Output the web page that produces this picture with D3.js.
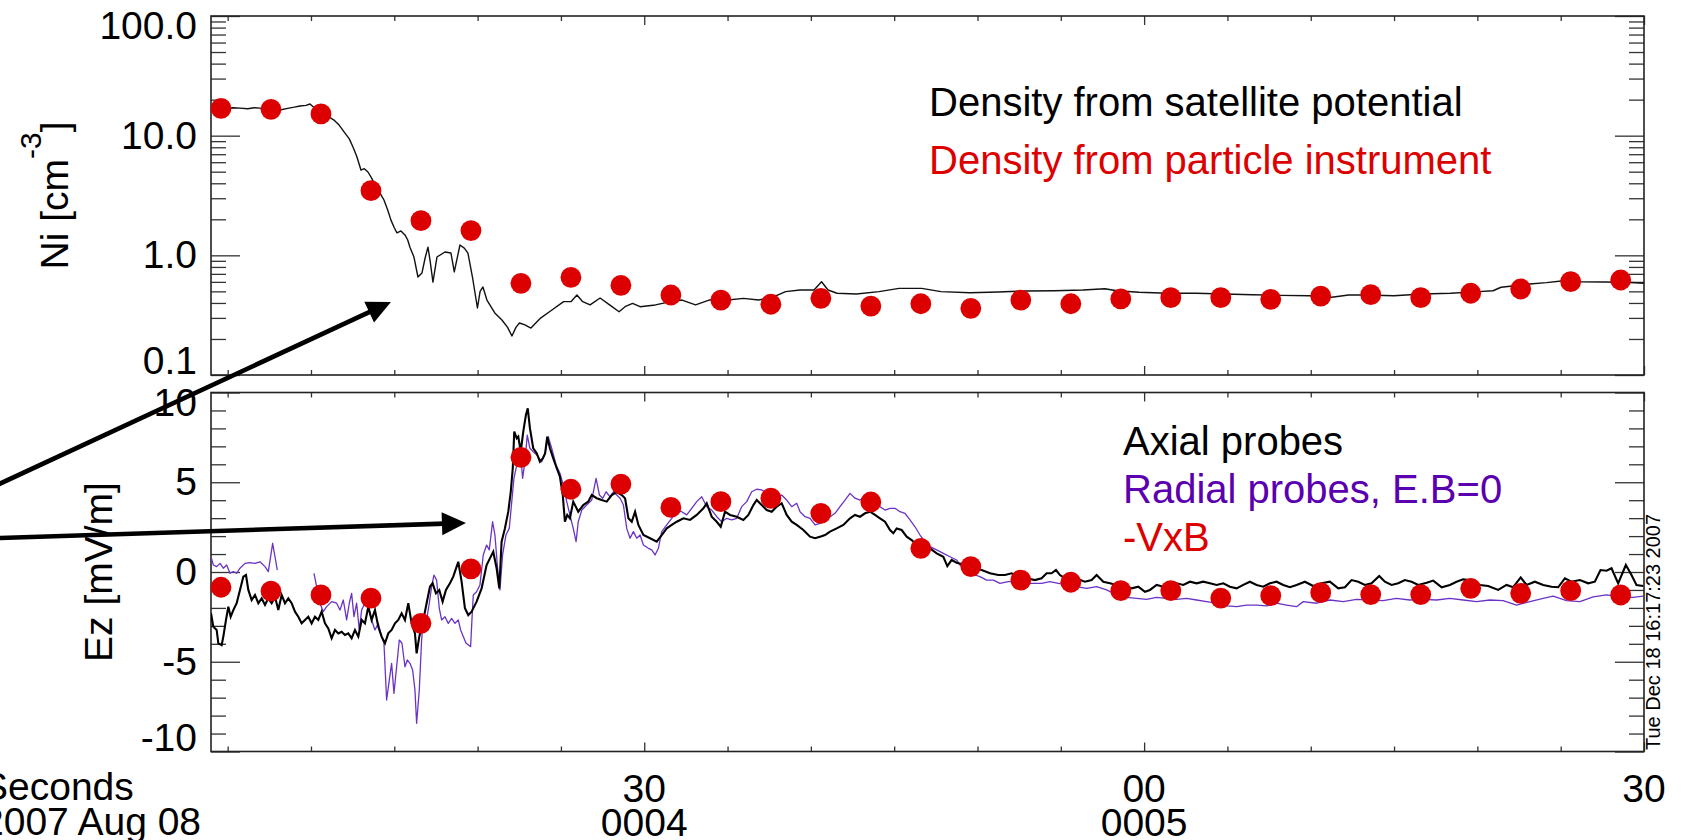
<!DOCTYPE html>
<html><head><meta charset="utf-8">
<script src="https://cdn.jsdelivr.net/npm/d3@7"></script>
<style>
html,body{margin:0;padding:0;background:#fff;overflow:hidden;}
svg{display:block;font-family:"Liberation Sans",Arial,Helvetica,sans-serif;}
</style></head><body>
<svg id="c" width="1687" height="840"></svg>
<script>
// ---------------- data (time = seconds after 00:04:00, 2007 Aug 08) ----------------
const dotTimes = [4.6,7.6,10.6,13.6,16.6,19.6,22.6,25.6,28.6,31.6,34.6,37.6,40.6,43.6,46.6,49.6,52.6,55.6,58.6,61.6,64.6,67.6,70.6,73.6,76.6,79.6,82.6,85.6,88.6];
const niParticle = [16.9,16.6,15.2,3.47,1.95,1.61,0.584,0.655,0.562,0.466,0.423,0.390,0.437,0.377,0.394,0.361,0.423,0.394,0.432,0.443,0.443,0.429,0.457,0.469,0.443,0.482,0.523,0.602,0.622];
const ezVxB = [-0.85,-1.06,-1.28,-1.45,-2.86,0.17,6.39,4.61,4.90,3.60,3.92,4.11,3.27,3.90,1.32,0.30,-0.45,-0.57,-1.04,-1.04,-1.45,-1.32,-1.15,-1.26,-1.26,-0.91,-1.19,-1.04,-1.28];

const niSatellite = [[4.00,17.4],[4.45,16.6],[4.84,16.7],[5.3,17.1],[5.74,17.0],[6.2,16.8],[6.6,17.1],[6.94,17.0],[7.4,16.7],[7.8,16.9],[8.14,16.4],[8.6,16.9],[9.0,17.3],[9.34,17.7],[9.7,17.9],[9.94,18.4],[10.2,17.1],[10.60,15.2],[11.0,14.6],[11.38,13.5],[11.7,12.2],[12.04,10.5],[12.3,9.4],[12.52,8.04],[12.75,6.7],[13.00,5.16],[13.2,5.3],[13.42,4.97],[13.65,4.4],[13.90,3.72],[14.15,3.3],[14.38,2.90],[14.6,2.4],[14.80,1.97],[15.0,1.7],[15.16,1.54],[15.4,1.60],[15.64,1.48],[15.8,1.35],[15.94,1.17],[16.18,0.968],[16.42,0.659],[16.66,0.711],[16.85,0.95],[17.02,1.17],[17.15,0.9],[17.32,0.598],[17.56,0.968],[18.04,1.066],[18.40,1.045],[18.60,0.726],[18.94,1.22],[19.2,1.15],[19.42,1.045],[19.69,0.659],[19.99,0.363],[20.15,0.5],[20.32,0.544],[20.56,0.423],[21.03,0.330],[21.46,0.288],[21.8,0.25],[22.06,0.212],[22.3,0.25],[22.51,0.272],[22.84,0.262],[23.20,0.247],[23.78,0.299],[24.46,0.349],[25.16,0.410],[25.60,0.410],[25.96,0.466],[26.31,0.410],[26.75,0.385],[27.35,0.440],[27.92,0.385],[28.49,0.338],[28.85,0.372],[29.30,0.397],[29.75,0.372],[30.67,0.385],[31.59,0.410],[32.27,0.423],[33.08,0.385],[33.89,0.423],[35.03,0.423],[35.95,0.437],[36.87,0.423],[37.79,0.451],[38.48,0.497],[39.35,0.513],[40.19,0.513],[40.64,0.602],[41.03,0.513],[41.57,0.482],[42.74,0.475],[44.09,0.497],[45.29,0.530],[46.65,0.530],[47.81,0.497],[49.55,0.487],[51.23,0.494],[52.91,0.503],[54.62,0.506],[56.33,0.513],[57.65,0.526],[58.35,0.506],[59.69,0.491],[61.41,0.482],[63.11,0.482],[64.79,0.475],[66.50,0.469],[68.21,0.463],[69.89,0.460],[71.26,0.446],[72.27,0.466],[73.29,0.466],[74.99,0.460],[76.68,0.475],[78.39,0.482],[80.08,0.497],[80.94,0.506],[81.42,0.541],[82.11,0.554],[83.13,0.576],[84.15,0.591],[85.17,0.614],[86.19,0.602],[87.54,0.598],[88.90,0.596],[90.00,0.584]];

const axialProbes = [[4.00,-2.30],[4.14,-3.05],[4.34,-3.23],[4.44,-3.97],[4.64,-4.07],[4.74,-3.60],[4.90,-2.67],[5.04,-1.93],[5.18,-2.49],[5.34,-2.12],[5.54,-1.74],[5.74,-1.00],[5.94,-0.26],[6.10,-0.17],[6.24,-1.00],[6.44,-1.56],[6.64,-1.28],[6.84,-1.74],[7.04,-1.47],[7.24,-1.84],[7.44,-1.47],[7.64,-1.74],[7.84,-1.38],[8.04,-2.12],[8.24,-1.28],[8.44,-1.74],[8.64,-1.47],[8.84,-1.74],[9.04,-2.21],[9.24,-2.49],[9.44,-2.86],[9.64,-2.67],[9.84,-2.49],[10.04,-2.86],[10.24,-2.49],[10.44,-2.67],[10.64,-2.21],[10.84,-2.86],[11.04,-3.14],[11.24,-3.69],[11.44,-3.23],[11.64,-3.42],[11.84,-3.33],[12.04,-3.51],[12.24,-3.42],[12.44,-3.69],[12.64,-3.23],[12.84,-3.60],[13.04,-2.67],[13.24,-2.86],[13.44,-1.93],[13.64,-2.67],[13.84,-2.12],[14.04,-3.05],[14.24,-3.60],[14.44,-3.97],[14.64,-3.42],[14.84,-3.23],[15.04,-2.86],[15.24,-2.67],[15.44,-2.30],[15.64,-2.67],[15.84,-1.74],[16.04,-2.86],[16.24,-3.42],[16.34,-4.53],[16.50,-3.60],[16.70,-2.86],[16.94,-1.74],[17.14,-0.82],[17.30,-0.63],[17.50,-1.19],[17.70,-1.00],[17.90,-1.65],[18.10,-1.00],[18.34,-0.63],[18.54,-0.26],[18.64,0.02],[18.84,0.57],[19.04,-0.54],[19.24,-2.02],[19.44,-2.40],[19.64,-2.21],[19.94,-1.65],[20.24,-0.91],[20.54,0.39],[20.74,0.76],[20.94,1.13],[21.14,0.21],[21.30,-0.91],[21.44,1.69],[21.64,2.43],[21.84,3.36],[21.99,4.47],[22.11,5.78],[22.20,7.82],[22.35,7.45],[22.44,7.54],[22.59,6.70],[22.74,7.82],[22.90,8.75],[23.01,9.12],[23.14,8.01],[23.34,6.89],[23.55,6.61],[23.74,6.14],[23.91,6.33],[24.05,6.61],[24.18,7.54],[24.34,6.89],[24.54,6.33],[24.75,5.78],[24.94,5.31],[25.11,4.29],[25.24,2.80],[25.38,3.18],[25.54,2.99],[25.74,3.92],[26.04,3.36],[26.34,3.73],[26.64,3.92],[26.85,4.29],[27.15,4.11],[27.45,4.01],[27.75,3.92],[28.05,4.29],[28.35,4.47],[28.65,4.29],[28.85,4.11],[29.05,2.99],[29.25,2.80],[29.45,3.36],[29.65,2.62],[29.95,2.06],[30.35,1.88],[30.75,1.69],[31.05,2.06],[31.35,2.43],[31.65,2.62],[31.95,2.80],[32.35,2.99],[32.75,2.90],[33.15,3.18],[33.55,3.55],[33.75,3.83],[34.05,3.08],[34.35,2.80],[34.59,2.52],[34.85,3.36],[35.15,3.18],[35.55,3.08],[35.95,2.90],[36.25,3.18],[36.55,3.73],[36.75,4.01],[37.05,3.73],[37.35,3.45],[37.65,3.36],[37.95,3.64],[38.25,3.83],[38.55,3.18],[38.85,2.80],[39.15,2.62],[39.55,2.34],[39.95,1.97],[40.25,1.88],[40.55,1.97],[40.85,2.06],[41.15,2.25],[41.55,2.43],[41.95,2.62],[42.35,2.99],[42.65,3.18],[42.95,3.08],[43.25,3.27],[43.55,3.36],[43.85,3.18],[44.15,2.99],[44.45,2.80],[44.75,2.34],[44.95,2.16],[45.15,2.43],[45.45,2.34],[45.75,1.97],[46.05,1.78],[46.35,1.50],[46.75,1.32],[47.15,1.32],[47.55,1.04],[47.95,0.85],[48.19,0.33],[48.45,0.67],[48.75,0.52],[49.25,0.39],[49.75,0.21],[50.25,0.11],[50.75,-0.07],[51.25,-0.17],[51.65,-0.17],[52.05,-0.07],[52.45,-0.26],[52.95,-0.35],[53.45,-0.45],[53.85,-0.35],[54.15,-0.07],[54.45,-0.07],[54.71,0.11],[54.95,-0.17],[55.25,-0.35],[55.65,-0.45],[56.05,-0.41],[56.45,-0.54],[56.85,-0.45],[57.15,-0.17],[57.55,-0.54],[57.95,-0.63],[58.35,-0.72],[58.75,-0.82],[59.25,-0.91],[59.65,-0.82],[60.05,-1.10],[60.35,-1.00],[60.75,-0.72],[61.15,-0.82],[61.55,-0.72],[61.95,-0.63],[62.35,-0.72],[62.75,-0.54],[63.15,-0.63],[63.55,-0.54],[63.95,-0.63],[64.35,-0.72],[64.75,-0.63],[65.15,-0.82],[65.55,-0.91],[65.95,-0.72],[66.35,-0.54],[66.75,-0.72],[67.15,-0.82],[67.55,-0.63],[67.95,-0.54],[68.35,-0.72],[68.75,-0.85],[69.15,-0.72],[69.65,-0.54],[70.15,-0.78],[70.65,-0.63],[71.15,-0.54],[71.65,-0.91],[72.05,-0.85],[72.45,-0.45],[72.85,-0.54],[73.25,-0.72],[73.65,-0.63],[74.11,-0.22],[74.45,-0.54],[74.85,-0.72],[75.25,-0.63],[75.65,-0.45],[76.05,-0.54],[76.45,-0.72],[76.96,-0.60],[77.35,-0.48],[77.86,-0.85],[78.35,-0.72],[78.75,-0.54],[79.15,-0.41],[79.66,-0.48],[80.15,-0.72],[80.65,-0.78],[81.25,-1.00],[81.75,-0.72],[82.15,-0.85],[82.60,-0.30],[82.95,-0.72],[83.45,-0.54],[83.95,-0.72],[84.45,-0.82],[84.85,-0.85],[85.25,-0.35],[85.65,-0.54],[86.15,-0.45],[86.65,-0.63],[87.05,-0.54],[87.39,0.11],[87.75,0.07],[88.05,0.21],[88.45,-0.63],[88.91,0.39],[89.25,-0.17],[89.55,-0.72],[89.95,-0.78]];

const radialProbes = [[4.00,0.85],[4.14,0.39],[4.34,0.30],[4.54,0.48],[4.74,0.21],[4.94,0.39],[5.14,-0.07],[5.34,0.02],[5.54,-0.07],[5.74,0.21],[6.04,0.48],[6.34,0.52],[6.64,0.48],[6.94,0.57],[7.24,0.30],[7.44,0.02],[7.70,1.60],[7.84,0.85],[7.98,0.11],[9.0,null],[10.18,-0.07],[10.34,-0.82],[10.54,-1.74],[10.74,-2.21],[10.94,-1.93],[11.24,-1.65],[11.54,-1.74],[11.74,-2.12],[11.94,-1.56],[12.14,-2.67],[12.30,-1.74],[12.44,-1.19],[12.58,-2.49],[12.74,-1.74],[12.90,-3.23],[13.04,-2.12],[13.24,-1.74],[13.44,-1.93],[13.64,-2.67],[13.84,-3.23],[14.04,-2.86],[14.24,-3.60],[14.38,-3.97],[14.54,-7.13],[14.70,-6.02],[14.84,-5.09],[14.98,-6.76],[15.14,-5.28],[15.30,-3.79],[15.46,-3.97],[15.64,-5.28],[15.78,-4.90],[15.94,-5.09],[16.10,-5.46],[16.24,-6.57],[16.34,-8.43],[16.50,-6.57],[16.64,-3.79],[16.74,-2.67],[16.94,-2.67],[17.10,-1.74],[17.24,-0.82],[17.38,-0.17],[17.54,-0.45],[17.70,-2.02],[17.84,-2.67],[18.04,-2.49],[18.24,-2.86],[18.44,-2.58],[18.64,-2.86],[18.84,-2.67],[18.98,-3.23],[19.30,-3.96],[19.58,-4.16],[19.66,-2.67],[19.74,-1.28],[19.94,-1.10],[20.14,-0.72],[20.34,0.95],[20.54,1.50],[20.70,1.23],[20.90,2.80],[21.04,2.06],[21.20,0.21],[21.34,-1.00],[21.50,0.95],[21.70,2.06],[21.90,2.43],[22.05,3.92],[22.18,5.22],[22.35,5.96],[22.54,7.08],[22.70,5.22],[22.84,6.14],[22.98,7.63],[23.14,6.89],[23.34,6.70],[23.55,6.52],[23.85,6.14],[24.05,6.61],[24.24,7.54],[24.45,6.89],[24.71,5.96],[24.94,5.50],[25.14,4.85],[25.35,3.92],[25.54,3.18],[25.74,2.43],[25.91,1.69],[26.04,2.80],[26.25,3.45],[26.55,3.73],[26.85,4.01],[27.11,5.22],[27.31,4.29],[27.51,4.11],[27.71,4.47],[27.95,4.19],[28.15,4.47],[28.35,4.29],[28.55,4.11],[28.75,3.73],[28.95,2.43],[29.15,1.88],[29.35,2.25],[29.55,1.88],[29.75,2.06],[29.95,1.50],[30.25,1.32],[30.45,1.23],[30.65,0.95],[30.85,1.32],[31.05,2.25],[31.35,2.62],[31.65,2.99],[31.95,3.45],[32.25,3.36],[32.55,3.18],[32.85,3.55],[33.15,3.92],[33.45,4.19],[33.75,3.64],[34.05,3.45],[34.35,3.08],[34.65,2.80],[34.95,2.99],[35.25,2.90],[35.55,2.99],[35.85,3.64],[36.15,3.92],[36.45,4.47],[36.75,4.61],[37.05,4.57],[37.35,4.38],[37.65,4.29],[37.95,4.11],[38.25,4.29],[38.55,4.01],[38.85,3.64],[39.15,3.83],[39.35,3.36],[39.65,3.08],[39.95,2.99],[40.25,2.62],[40.55,2.71],[40.85,2.90],[41.15,3.08],[41.45,3.27],[41.75,3.64],[42.05,4.01],[42.35,4.38],[42.65,4.11],[42.95,4.01],[43.25,4.19],[43.55,3.92],[43.85,3.73],[44.15,3.64],[44.45,3.45],[44.75,3.55],[45.05,3.55],[45.35,3.36],[45.65,3.27],[45.95,2.90],[46.25,2.52],[46.55,2.06],[46.85,1.69],[47.15,1.41],[47.55,1.23],[47.95,1.04],[48.35,0.85],[48.75,0.67],[48.95,0.39],[49.55,-0.07],[50.15,-0.26],[50.55,-0.45],[50.95,-0.45],[51.35,-0.63],[51.85,-0.54],[52.35,-0.54],[52.85,-0.63],[53.35,-0.63],[53.85,-0.63],[54.35,-0.54],[54.85,-0.63],[55.35,-0.72],[55.95,-0.82],[56.55,-0.91],[57.15,-0.82],[57.75,-1.00],[58.35,-1.28],[58.95,-1.41],[59.55,-1.47],[60.15,-1.52],[60.75,-1.41],[61.35,-1.47],[61.95,-1.52],[62.55,-1.47],[63.15,-1.56],[63.75,-1.65],[64.35,-1.74],[64.95,-1.89],[65.55,-1.93],[66.15,-1.84],[66.75,-1.84],[67.35,-1.89],[67.95,-1.74],[68.55,-1.84],[69.15,-1.93],[69.55,-1.65],[70.35,-1.74],[71.15,-1.56],[71.95,-1.65],[72.75,-1.52],[73.55,-1.56],[74.34,-1.60],[75.14,-1.47],[75.94,-1.56],[76.74,-1.52],[77.55,-1.56],[78.35,-1.47],[79.15,-1.56],[79.95,-1.65],[80.75,-1.56],[81.55,-1.60],[82.35,-1.84],[83.15,-1.65],[83.95,-1.47],[84.55,-1.34],[85.35,-1.60],[86.15,-1.65],[86.95,-1.38],[87.75,-1.28],[88.55,-1.38],[89.35,-1.41],[89.95,-1.34]];

const xMajorTicks = [30, 60, 90];
const xMinorTicks = [5,10,15,20,25,35,40,45,50,55,65,70,75,80,85];
const xTickLine1 = ["30","00","30"];
const xTickLine2 = ["0004","0005",""];
const niMajorTicks = [0.1, 1, 10, 100];
const niTickLabels = ["0.1","1.0","10.0","100.0"];
const niMinorTicks = [0.2,0.3,0.4,0.5,0.6,0.7,0.8,0.9,2,3,4,5,6,7,8,9,20,30,40,50,60,70,80,90];
const ezMajorTicks = [-10,-5,0,5,10];
const ezTickLabels = ["-10","-5","0","5","10"];
const ezMinorTicks = [-9,-8,-7,-6,-4,-3,-2,-1,1,2,3,4,6,7,8,9];
// annotation arrows (data coordinates): [fromT, fromV, toT, toV]
const arrowDensity = [-9.86, 0.01035, 14.8, 0.407];
const arrowField = [-9.86, 1.86, 19.3, 2.73];

// ---------------- layout ----------------
const X0 = 211, X1 = 1644;
const T0 = 16, T1 = 375;      // top panel
const B0 = 392.5, B1 = 751.5; // bottom panel
const RED = "#dd0000", PURPLE_TXT = "#5a00b0", PURPLE_LINE = "#6a33c6";
const FS = 39, FSL = 40;

const svg = d3.select("#c");
const x = d3.scaleLinear().domain([4, 90]).range([X0, X1]);
const yN = d3.scaleLog().domain([0.1, 100]).range([T1, T0]);
const yE = d3.scaleLinear().domain([-10, 10]).range([B1, B0]);

svg.append("rect").attr("width",1687).attr("height",840).attr("fill","#fff");

const defs = svg.append("defs");
defs.append("clipPath").attr("id","clipT").append("rect").attr("x",X0).attr("y",T0).attr("width",X1-X0).attr("height",T1-T0);
defs.append("clipPath").attr("id","clipB").append("rect").attr("x",X0).attr("y",B0).attr("width",X1-X0).attr("height",B1-B0);

function styleAxis(g){
  g.select(".domain").remove();
  g.selectAll(".tick line").attr("stroke","#333").attr("stroke-width",1.3);
  g.selectAll(".tick text").remove();
}

function panelAxes(y0, y1, yScale, major, minor){
  svg.append("g").attr("transform",`translate(0,${y0})`).call(d3.axisBottom(x).tickValues(minor.x).tickSize(5).tickFormat("")).call(styleAxis);
  svg.append("g").attr("transform",`translate(0,${y0})`).call(d3.axisBottom(x).tickValues(xMajorTicks).tickSize(9).tickFormat("")).call(styleAxis);
  svg.append("g").attr("transform",`translate(0,${y1})`).call(d3.axisTop(x).tickValues(minor.x).tickSize(5).tickFormat("")).call(styleAxis);
  svg.append("g").attr("transform",`translate(0,${y1})`).call(d3.axisTop(x).tickValues(xMajorTicks).tickSize(9).tickFormat("")).call(styleAxis);
  svg.append("g").attr("transform",`translate(${X0},0)`).call(d3.axisRight(yScale).tickValues(minor.y).tickSize(15).tickFormat("")).call(styleAxis);
  svg.append("g").attr("transform",`translate(${X0},0)`).call(d3.axisRight(yScale).tickValues(major).tickSize(29).tickFormat("")).call(styleAxis);
  svg.append("g").attr("transform",`translate(${X1},0)`).call(d3.axisLeft(yScale).tickValues(minor.y).tickSize(15).tickFormat("")).call(styleAxis);
  svg.append("g").attr("transform",`translate(${X1},0)`).call(d3.axisLeft(yScale).tickValues(major).tickSize(29).tickFormat("")).call(styleAxis);
  svg.append("rect").attr("x",X0).attr("y",y0).attr("width",X1-X0).attr("height",y1-y0)
    .attr("fill","none").attr("stroke","#222").attr("stroke-width",1.6);
}
panelAxes(T0, T1, yN, niMajorTicks, {x:xMinorTicks, y:niMinorTicks});
panelAxes(B0, B1, yE, ezMajorTicks, {x:xMinorTicks, y:ezMinorTicks});

// y tick labels (IDL keeps end labels inside the axis range)
function yLabels(ticks, labels, scale){
  const n = ticks.length;
  svg.append("g").selectAll("text").data(ticks).join("text")
    .attr("x", X0 - 14)
    .attr("y", (d,i) => scale(d) + (i === n-1 ? 23 : (i === 0 ? -1 : 13)))
    .attr("text-anchor","end").attr("font-size",FS).attr("fill","#000")
    .text((d,i) => labels[i]);
}
yLabels(niMajorTicks, niTickLabels, yN);
yLabels(ezMajorTicks, ezTickLabels, yE);

// x tick labels
svg.append("g").selectAll("text").data(xMajorTicks).join("text")
  .attr("x", d => x(d)).attr("y", 802).attr("text-anchor","middle").attr("font-size",FS)
  .text((d,i) => xTickLine1[i]);
svg.append("g").selectAll("text").data(xMajorTicks).join("text")
  .attr("x", d => x(d)).attr("y", 836).attr("text-anchor","middle").attr("font-size",FS)
  .text((d,i) => xTickLine2[i]);
svg.append("text").attr("x",-18).attr("y",800).attr("font-size",FS).text("Seconds");
svg.append("text").attr("x",-18).attr("y",835).attr("font-size",FS).text("2007 Aug 08");

// axis titles
const niT = svg.append("text").attr("transform",`translate(68,${(T0+T1)/2}) rotate(-90)`)
  .attr("text-anchor","middle").attr("font-size",FS);
niT.append("tspan").text("Ni [cm");
niT.append("tspan").attr("font-size",30).attr("dy",-27).text("-3");
niT.append("tspan").attr("dy",27).text("]");
svg.append("text").attr("transform",`translate(112,${(B0+B1)/2}) rotate(-90)`)
  .attr("text-anchor","middle").attr("font-size",FS).text("Ez [mV/m]");

// ---------------- data lines ----------------
const lineN = d3.line().x(d => x(d[0])).y(d => yN(d[1]));
svg.append("path").datum(niSatellite).attr("d",lineN).attr("clip-path","url(#clipT)")
  .attr("fill","none").attr("stroke","#111").attr("stroke-width",1.4).attr("stroke-linejoin","round");

const lineE = d3.line().defined(d => d[1] !== null).x(d => x(d[0])).y(d => yE(d[1]));
svg.append("path").datum(radialProbes).attr("d",lineE).attr("clip-path","url(#clipB)")
  .attr("fill","none").attr("stroke",PURPLE_LINE).attr("stroke-width",1.3).attr("stroke-linejoin","round");
svg.append("path").datum(axialProbes).attr("d",lineE).attr("clip-path","url(#clipB)")
  .attr("fill","none").attr("stroke","#000").attr("stroke-width",2.1).attr("stroke-linejoin","miter");

// red dots
svg.append("g").selectAll("circle").data(dotTimes).join("circle")
  .attr("cx", d => x(d)).attr("cy", (d,i) => yN(niParticle[i])).attr("r",10.4).attr("fill",RED);
svg.append("g").selectAll("circle").data(dotTimes).join("circle")
  .attr("cx", d => x(d)).attr("cy", (d,i) => yE(ezVxB[i])).attr("r",10.4).attr("fill",RED);

// legends
svg.append("text").attr("x",929).attr("y",116).attr("font-size",FSL).attr("fill","#000").text("Density from satellite potential");
svg.append("text").attr("x",929).attr("y",174).attr("font-size",FSL).attr("fill",RED).text("Density from particle instrument");
svg.append("text").attr("x",1123).attr("y",455).attr("font-size",FSL).attr("fill","#000").text("Axial probes");
svg.append("text").attr("x",1123).attr("y",503).attr("font-size",FSL).attr("fill",PURPLE_TXT).text("Radial probes, E.B=0");
svg.append("text").attr("x",1123).attr("y",551).attr("font-size",FSL).attr("fill",RED).text("-VxB");

// timestamp
svg.append("text").attr("transform","translate(1660,750) rotate(-90)").attr("font-size",20).attr("fill","#000")
  .text("Tue Dec 18 16:17:23 2007");

// arrows
function arrow(a, yScale){
  const x1 = x(a[0]), y1 = yScale(a[1]), x2 = x(a[2]), y2 = yScale(a[3]);
  const dx = x2-x1, dy = y2-y1, L = Math.hypot(dx,dy), ux = dx/L, uy = dy/L;
  const hl = 24, hw = 11.5;
  const bx = x2 - ux*hl, by = y2 - uy*hl;
  svg.append("line").attr("x1",x1).attr("y1",y1).attr("x2",x2-ux*(hl-3)).attr("y2",y2-uy*(hl-3))
    .attr("stroke","#000").attr("stroke-width",4.6);
  svg.append("path").attr("d",`M${x2},${y2}L${bx-uy*hw},${by+ux*hw}L${bx+uy*hw},${by-ux*hw}Z`).attr("fill","#000");
}
arrow(arrowDensity, yN);
arrow(arrowField, yE);
</script>
</body></html>
